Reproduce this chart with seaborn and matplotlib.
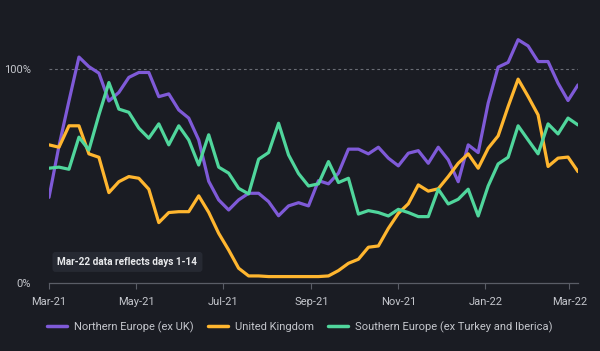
import numpy as np
import pandas as pd
import matplotlib
matplotlib.use("Agg")
import matplotlib.pyplot as plt
from matplotlib.lines import Line2D
import seaborn as sns

# ---- data (weekly, % of reference level) ----
weeks = pd.date_range("2021-03-01", periods=54, freq="7D")

northern_europe = [40, 64, 85, 105.5, 101, 98, 85, 89, 96, 98.3, 98.3, 87, 88.3, 80.8, 77, 66.8,
                   47.5, 38.8, 34.1, 38.8, 41.9, 41.9, 38, 31.4, 36, 37.5, 36, 47.8, 46.3, 51.3,
                   62.5, 62.5, 60.3, 63.4, 58.3, 54.7, 60.6, 61.8, 55.9, 63.4, 57.5, 47.3, 64.5,
                   60.9, 84, 100.8, 103, 113.6, 110.7, 103.4, 103.4, 93.3, 85.2, 92.5]
united_kingdom = [64.5, 63.4, 73.4, 73.4, 60.3, 58.7, 42.2, 47.3, 49.7, 48.9, 43.8, 28.2, 32.9,
                  33.3, 33.3, 40.7, 33, 23.2, 15.4, 6.9, 3.3, 3.3, 3.0, 3.0, 3.0, 3.0, 3.0, 3.0,
                  3.3, 5.8, 9.2, 11.1, 16.7, 17.3, 25.5, 32.5, 37, 45.8, 42.9, 44, 49.7, 55.9,
                  60.3, 53.6, 62.9, 68.7, 82.4, 95.2, 87.1, 78.5, 54.4, 58.3, 58.8, 52]
southern_europe = [53.6, 54.1, 53.1, 68.1, 62.1, 78.5, 93.6, 81.2, 79.7, 72.3, 67.6, 74.3, 64.5,
                   73.4, 66.8, 55.1, 69.2, 54.1, 51.3, 44.2, 41.6, 57.8, 60.9, 74.6, 59.8, 51.1,
                   45.3, 46.3, 56.7, 46.9, 48.9, 32.2, 33.8, 32.9, 31.3, 34.4, 32.9, 31, 31, 43.8,
                   36.9, 39.1, 43.8, 31.3, 45.3, 55.6, 58.7, 73.4, 66.8, 60.3, 74.3, 69.6, 77, 73.8]

series_names = ["Northern Europe (ex UK)", "United Kingdom", "Southern Europe (ex Turkey and Iberica)"]
series_colors = ["#7f5ad8", "#ffb62f", "#50d69c"]
y_ticks = [0, 100]
y_tick_labels = ["0%", "100%"]
x_ticks = pd.to_datetime(["2021-03-01", "2021-05-01", "2021-07-01", "2021-09-01",
                          "2021-11-01", "2022-01-01", "2022-03-01"])
x_tick_labels = ["Mar-21", "May-21", "Jul-21", "Sep-21", "Nov-21", "Jan-22", "Mar-22"]
note_text = "Mar-22 data reflects days 1-14"

df = pd.DataFrame({
    "week": np.tile(weeks, 3),
    "value": northern_europe + united_kingdom + southern_europe,
    "series": np.repeat(series_names, len(weeks)),
})

# ---- style ----
bg = "#1a1c23"
txt = "#c4c6cc"
sns.set_theme(style="dark")
plt.rcParams["font.family"] = ["Roboto", "DejaVu Sans"]

fig = plt.figure(figsize=(6.0, 3.51), dpi=100, facecolor=bg)
ax = fig.add_axes([49 / 600, 1 - 283 / 351, (578 - 49) / 600, (283 - 26) / 351])
ax.set_facecolor(bg)

sns.lineplot(data=df, x="week", y="value", hue="series", hue_order=series_names,
             palette=series_colors, linewidth=2.3, ax=ax, legend=False)

ax.set_xlim(weeks[0], weeks[-1])
ax.set_ylim(0, 120)
ax.set_xlabel("")
ax.set_ylabel("")

ax.set_yticks(y_ticks)
ax.set_yticklabels(y_tick_labels, color=txt, fontsize=8)
ax.set_xticks(x_ticks)
ax.set_xticklabels(x_tick_labels, color=txt, fontsize=8)
ax.tick_params(axis="y", length=0, pad=13)
ax.tick_params(axis="x", length=4, width=0.8, color="#5a5d66", pad=6, direction="out", bottom=True)

ax.grid(False)
ax.axhline(100, color="#6a6d75", linewidth=0.8, linestyle=(0, (2.5, 2.5)), zorder=0)
for s in ["top", "right", "left"]:
    ax.spines[s].set_visible(False)
ax.spines["bottom"].set_color("#5a5d66")
ax.spines["bottom"].set_linewidth(0.9)

# note box
ax.text(0.016, 0.082, note_text, transform=ax.transAxes, color="#e8e9ec", fontsize=7.2,
        fontweight="bold", ha="left", va="center",
        bbox=dict(boxstyle="round,pad=0.5,rounding_size=0.3", facecolor="#262932",
                  edgecolor="none"))

# legend
handles = [Line2D([0], [0], color=c, linewidth=2.5) for c in series_colors]
leg = fig.legend(handles, series_names, loc="center", bbox_to_anchor=(0.5, 1 - 327 / 351),
                 ncol=3, frameon=False, fontsize=8, handlelength=1.8, handletextpad=0.6,
                 columnspacing=1.3)
for t in leg.get_texts():
    t.set_color(txt)

fig.savefig("out.png", dpi=100, facecolor=bg)
